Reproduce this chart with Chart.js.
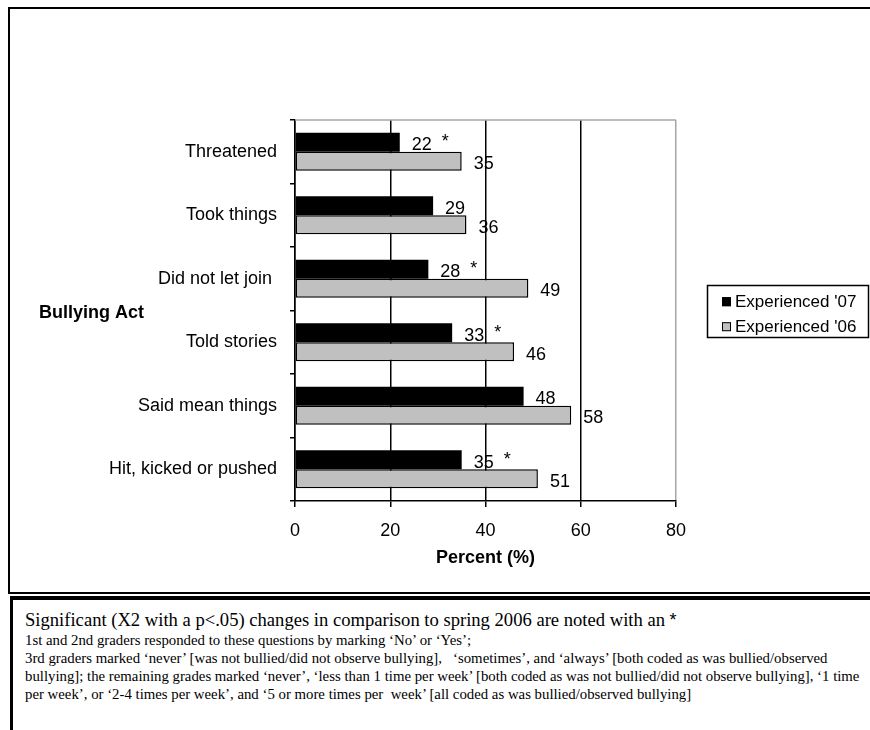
<!DOCTYPE html>
<html>
<head>
<meta charset="utf-8">
<script src="https://cdn.jsdelivr.net/npm/chart.js@4"></script>
<style>
html,body{margin:0;padding:0;background:#fff;}
body{width:870px;height:730px;position:relative;overflow:hidden;font-family:"Liberation Serif","Times New Roman",serif;color:#000;}
#frameTop{position:absolute;left:8px;top:7px;width:900px;height:583px;border-left:2px solid #000;border-top:2px solid #000;border-bottom:2px solid #000;box-sizing:content-box;}
#frameBottom{position:absolute;left:10px;top:596px;width:900px;height:200px;border-left:3px solid #000;border-top:4px solid #000;}
#chartWrap{position:absolute;left:0;top:0;width:870px;height:595px;}
#note1{position:absolute;left:25px;top:610.4px;font-size:18.6px;line-height:20px;white-space:pre;}
#note1 .ast{font-family:"Liberation Sans",Arial,sans-serif;font-size:18px;}
#note2{position:absolute;left:25px;top:631px;font-size:14.8px;line-height:18px;}
#note2 div{white-space:pre;}
</style>
</head>
<body>
<div id="frameTop"></div>
<div id="frameBottom"></div>
<div id="chartWrap"><canvas id="c" width="870" height="595"></canvas></div>
<div id="note1">Significant (X2 with a p&lt;.05) changes in comparison to spring 2006 are noted with an <span class="ast">*</span></div>
<div id="note2">
<div>1st and 2nd graders responded to these questions by marking ‘No’ or ‘Yes’;</div>
<div>3rd graders marked ‘never’ [was not bullied/did not observe bullying],   ‘sometimes’, and ‘always’ [both coded as was bullied/observed</div>
<div>bullying]; the remaining grades marked ‘never’, ‘less than 1 time per week’ [both coded as was not bullied/did not observe bullying], ‘1 time</div>
<div>per week’, or ‘2-4 times per week’, and ‘5 or more times per  week’ [all coded as was bullied/observed bullying]</div>
</div>
<script>
// ---- data ----
const categories = ['Threatened', 'Took things', 'Did not let join ', 'Told stories', 'Said mean things', 'Hit, kicked or pushed'];
const experienced07 = [22, 29, 28, 33, 48, 35];
const experienced06 = [35, 36, 49, 46, 58, 51];
const significant = [true, false, true, true, false, true];
const xTicks = [0, 20, 40, 60, 80];
const seriesNames = ["Experienced '07", "Experienced '06"];
const yAxisTitle = 'Bullying Act';
const xAxisTitle = 'Percent (%)';

const SANS = '"Liberation Sans", Arial, sans-serif';

const annotPlugin = {
  id: 'annot',
  beforeDatasetsDraw(chart) {
    const {ctx, chartArea: a} = chart;
    ctx.save();
    ctx.strokeStyle = '#a6a6a6';
    ctx.lineWidth = 1.5;
    ctx.beginPath();
    ctx.moveTo(a.left, a.top);
    ctx.lineTo(a.right, a.top);
    ctx.stroke();
    ctx.restore();
  },
  afterDatasetsDraw(chart) {
    const ctx = chart.ctx;
    ctx.save();
    ctx.font = '18px ' + SANS;
    ctx.fillStyle = '#000';
    ctx.textAlign = 'left';
    ctx.textBaseline = 'alphabetic';
    chart.data.datasets.forEach((ds, di) => {
      const meta = chart.getDatasetMeta(di);
      meta.data.forEach((bar, i) => {
        const p = bar.getProps(['x', 'y', 'height'], true);
        const txt = String(ds.data[i]);
        const x = p.x + 12;
        const y = p.y + p.height / 2 - 1.5;
        ctx.fillText(txt, x, y);
        if (di === 0 && significant[i]) {
          const w = ctx.measureText(txt).width;
          ctx.fillText('*', x + w + 10, y - 3);
        }
      });
    });
    ctx.restore();
  },
  afterDraw(chart) {
    const ctx = chart.ctx;
    ctx.save();
    // y-axis title (horizontal)
    ctx.font = 'bold 18px ' + SANS;
    ctx.fillStyle = '#000';
    ctx.textAlign = 'left';
    ctx.textBaseline = 'alphabetic';
    ctx.fillText(yAxisTitle, 39, 318);
    // legend
    ctx.lineWidth = 1.5;
    ctx.strokeStyle = '#000';
    ctx.strokeRect(707.5, 285.5, 161, 52);
    ctx.font = '17px ' + SANS;
    ctx.textBaseline = 'middle';
    const rows = [301.7, 326.7];
    chart.data.datasets.forEach((ds, di) => {
      const cy = rows[di];
      ctx.fillStyle = ds.backgroundColor;
      ctx.fillRect(722, cy - 4.5, 9, 9);
      ctx.lineWidth = 1;
      ctx.strokeStyle = '#000';
      ctx.strokeRect(722.5, cy - 4, 8, 8);
      ctx.fillStyle = '#000';
      ctx.fillText(ds.label, 735, cy + 0.5);
    });
    ctx.restore();
  }
};

new Chart(document.getElementById('c'), {
  type: 'bar',
  data: {
    labels: categories,
    datasets: [
      {label: seriesNames[0], data: experienced07, backgroundColor: '#000000', borderColor: '#000000', borderWidth: 0,
       categoryPercentage: 0.6, barPercentage: 1.0},
      {label: seriesNames[1], data: experienced06, backgroundColor: '#c0c0c0', borderColor: '#000000', borderWidth: 1.5, borderSkipped: false,
       categoryPercentage: 0.6, barPercentage: 1.0}
    ]
  },
  options: {
    indexAxis: 'y',
    responsive: false,
    animation: false,
    devicePixelRatio: 1,
    layout: {padding: {left: 0, top: 120, right: 194, bottom: 24}},
    plugins: {legend: {display: false}, tooltip: {enabled: false}},
    scales: {
      x: {
        min: 0, max: 80,
        afterFit(axis) { axis.height = 70; },
        afterBuildTicks(axis) { axis.ticks = xTicks.map(v => ({value: v})); },
        ticks: {font: {family: SANS, size: 18}, color: '#000', padding: 13},
        grid: {
          color: ctx => (ctx.tick && ctx.tick.value === 80) ? '#a6a6a6' : '#000',
          tickColor: '#000', lineWidth: 1.5, tickLength: 6, drawOnChartArea: true
        },
        border: {color: '#000', width: 1.5},
        title: {display: true, text: xAxisTitle, color: '#000', font: {family: SANS, size: 18, weight: 'bold'}, padding: {top: 0, bottom: 2}}
      },
      y: {
        afterFit(axis) { axis.width = 295; },
        ticks: {font: {family: SANS, size: 18}, color: '#000', padding: 13},
        grid: {drawOnChartArea: false, drawTicks: true, tickLength: 5, tickColor: '#000', lineWidth: 1.5, offset: true},
        border: {color: '#000', width: 1.5}
      }
    }
  },
  plugins: [annotPlugin]
});
</script>
</body>
</html>
